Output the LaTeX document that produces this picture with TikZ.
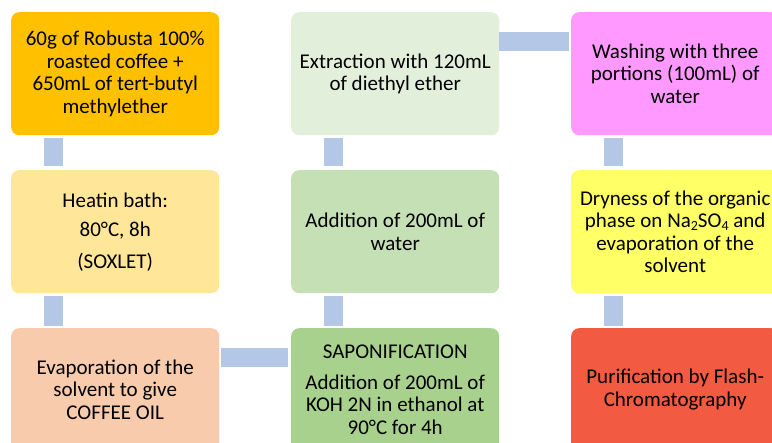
\documentclass[tikz,border=0pt]{standalone}
\usepackage{fontspec}
\setmainfont{Carlito}
\usetikzlibrary{calc}
\definecolor{cA}{HTML}{FFC000}
\definecolor{cB}{HTML}{FFE699}
\definecolor{cC}{HTML}{F8CBAD}
\definecolor{cD}{HTML}{E2EFDA}
\definecolor{cE}{HTML}{C5E0B4}
\definecolor{cF}{HTML}{A9D18E}
\definecolor{cG}{HTML}{FF99FF}
\definecolor{cH}{HTML}{FFFF66}
\definecolor{cI}{HTML}{F25A42}
\definecolor{connc}{HTML}{B4C7E7}
\newcommand{\mysub}[1]{\raisebox{-3pt}{\fontsize{14}{14}\selectfont #1}}
\begin{document}
\begin{tikzpicture}[x=1pt,y=-1pt,
  box/.style={rectangle, rounded corners=8pt, minimum width=208pt, minimum height=123pt,
    anchor=north west, align=center, inner sep=2pt,
    font=\fontsize{21}{22.5}\selectfont, text=black},
  conn/.style={draw=connc, line width=19pt}]
\useasboundingbox (0,0) rectangle (772,443);
\fill[white] (0,0) rectangle (772,443);
\clip (0,0) rectangle (772,443);
% column 1
\node[box, fill=cA] (a1) at (11,12) {60g of Robusta 100\%\\roasted coffee +\\650mL of tert-butyl\\methylether};
\node[box, fill=cB] (a2) at (11,170) {Heatin bath:\\[7pt]80°C, 8h\\[9pt](SOXLET)};
\node[box, fill=cC] (a3) at (11,328) {Evaporation of the\\solvent to give\\COFFEE OIL};
% column 2
\node[box, fill=cD] (b1) at (291,12) {Extraction with 120mL\\of diethyl ether};
\node[box, fill=cE] (b2) at (291,170) {Addition of 200mL of\\water};
\node[box, fill=cF] (b3) at (291,328) {SAPONIFICATION\\[8pt]Addition of 200mL of\\KOH 2N in ethanol at\\90°C for 4h};
% column 3
\node[box, fill=cG] (c1) at (571,12) {Washing with three\\portions (100mL) of\\water};
\node[box, fill=cH] (c2) at (571,170) {Dryness of the organic\\phase on Na\mysub{2}SO\mysub{4} and\\evaporation of the\\solvent};
\node[box, fill=cI] (c3) at (571,328) {Purification by Flash-\\Chromatography};
% connectors
\draw[conn] ($(a1.south west)+(42.5,3)$) -- ($(a2.north west)+(42.5,-4)$);
\draw[conn] ($(a2.south west)+(42.5,3)$) -- ($(a3.north west)+(42.5,-2)$);
\draw[conn] ($(a3.north east)+(2,30)$) -- ($(b3.north west)+(-3,30)$);
\draw[conn] ($(b3.north west)+(42.5,-2)$) -- ($(b2.south west)+(42.5,3)$);
\draw[conn] ($(b2.north west)+(42.5,-4)$) -- ($(b1.south west)+(42.5,3)$);
\draw[conn] ($(b1.north east)+(0,29.5)$) -- ($(c1.north west)+(-2,29.5)$);
\draw[conn] ($(c1.south west)+(42.5,3)$) -- ($(c2.north west)+(42.5,-4)$);
\draw[conn] ($(c2.south west)+(42.5,3)$) -- ($(c3.north west)+(42.5,-2)$);
\end{tikzpicture}
\end{document}
